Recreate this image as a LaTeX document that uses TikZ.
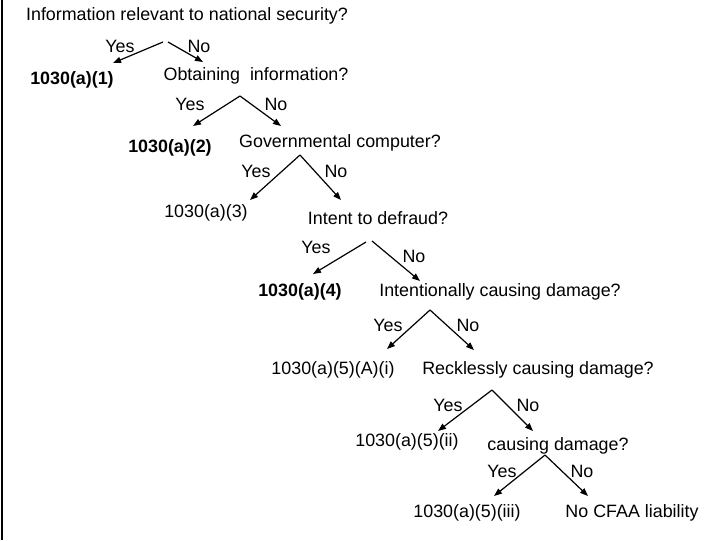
\documentclass[tikz,border=0pt]{standalone}
\usepackage{fontspec}
\setmainfont{Liberation Sans}
\usetikzlibrary{arrows.meta}
\begin{document}
\begin{tikzpicture}[x=0.75pt,y=-0.75pt,
  t/.style={inner sep=0pt,font=\fontsize{13.4pt}{15pt}\selectfont},
  b/.style={t,font=\fontsize{13.4pt}{15pt}\selectfont\bfseries},
  ar/.style={line width=0.9pt,-{Triangle[length=6pt,width=4.5pt]}}]
\useasboundingbox (0,0) rectangle (720,540);
\draw[line width=0.8pt] (2,0) -- (2,540);
\node[t] (q1) at (187,16) {Information relevant to national security?};
\node[t] (y1) at (120,46) {Yes};
\node[t] (n1) at (199,46) {No};
\coordinate (a1) at (163,42); \coordinate (a1b) at (168,42);
\node[b] (r1) at (72,80) {1030(a)(1)};
\node[t] (q2) at (256,76) {Obtaining\ \ information?};
\coordinate (e1a) at (113,63); \coordinate (e1b) at (203,62);
\draw[ar] (a1) -- (e1a); \draw[ar] (a1b) -- (e1b);
\node[t] (y2) at (190,104) {Yes};
\node[t] (n2) at (276,104) {No};
\coordinate (a2) at (240,96);
\coordinate (e2a) at (193,126); \coordinate (e2b) at (281,126);
\draw[ar] (a2) -- (e2a); \draw[ar] (a2) -- (e2b);
\node[b] (r2) at (170,148) {1030(a)(2)};
\node[t] (q3) at (340,143) {Governmental computer?};
\node[t] (y3) at (256,171) {Yes};
\node[t] (n3) at (336,171) {No};
\coordinate (a3) at (300,155);
\coordinate (e3a) at (250,200); \coordinate (e3b) at (341,200);
\draw[ar] (a3) -- (e3a); \draw[ar] (a3) -- (e3b);
\node[t] (r3) at (206,213) {1030(a)(3)};
\node[t] (q4) at (378,218) {Intent to defraud?};
\node[t] (y4) at (316,247) {Yes};
\node[t] (n4) at (414,256) {No};
\coordinate (a4) at (366,242); \coordinate (a4b) at (372,241);
\coordinate (e4a) at (313,274); \coordinate (e4b) at (420,281);
\draw[ar] (a4) -- (e4a); \draw[ar] (a4b) -- (e4b);
\node[b] (r4) at (300,292) {1030(a)(4)};
\node[t] (q5) at (500,292) {Intentionally causing damage?};
\node[t] (y5) at (388,325) {Yes};
\node[t] (n5) at (468,325) {No};
\coordinate (a5) at (430,310);
\coordinate (e5a) at (387,349); \coordinate (e5b) at (474,350);
\draw[ar] (a5) -- (e5a); \draw[ar] (a5) -- (e5b);
\node[t] (r5) at (333,370) {1030(a)(5)(A)(i)};
\node[t] (q6) at (538,370) {Recklessly causing damage?};
\node[t] (y6) at (448,405) {Yes};
\node[t] (n6) at (528,405) {No};
\coordinate (a6) at (492,390);
\coordinate (e6a) at (438,431); \coordinate (e6b) at (533,431);
\draw[ar] (a6) -- (e6a); \draw[ar] (a6) -- (e6b);
\node[t] (r6) at (407,442) {1030(a)(5)(ii)};
\node[t] (q7) at (558,446) {causing damage?};
\node[t] (y7) at (502,471) {Yes};
\node[t] (n7) at (582,471) {No};
\coordinate (a7) at (545,455);
\coordinate (e7a) at (494,496); \coordinate (e7b) at (588,496);
\draw[ar] (a7) -- (e7a); \draw[ar] (a7) -- (e7b);
\node[t] (r7) at (467,513) {1030(a)(5)(iii)};
\node[t] (r8) at (632,513) {No CFAA liability};
\end{tikzpicture}
\end{document}
